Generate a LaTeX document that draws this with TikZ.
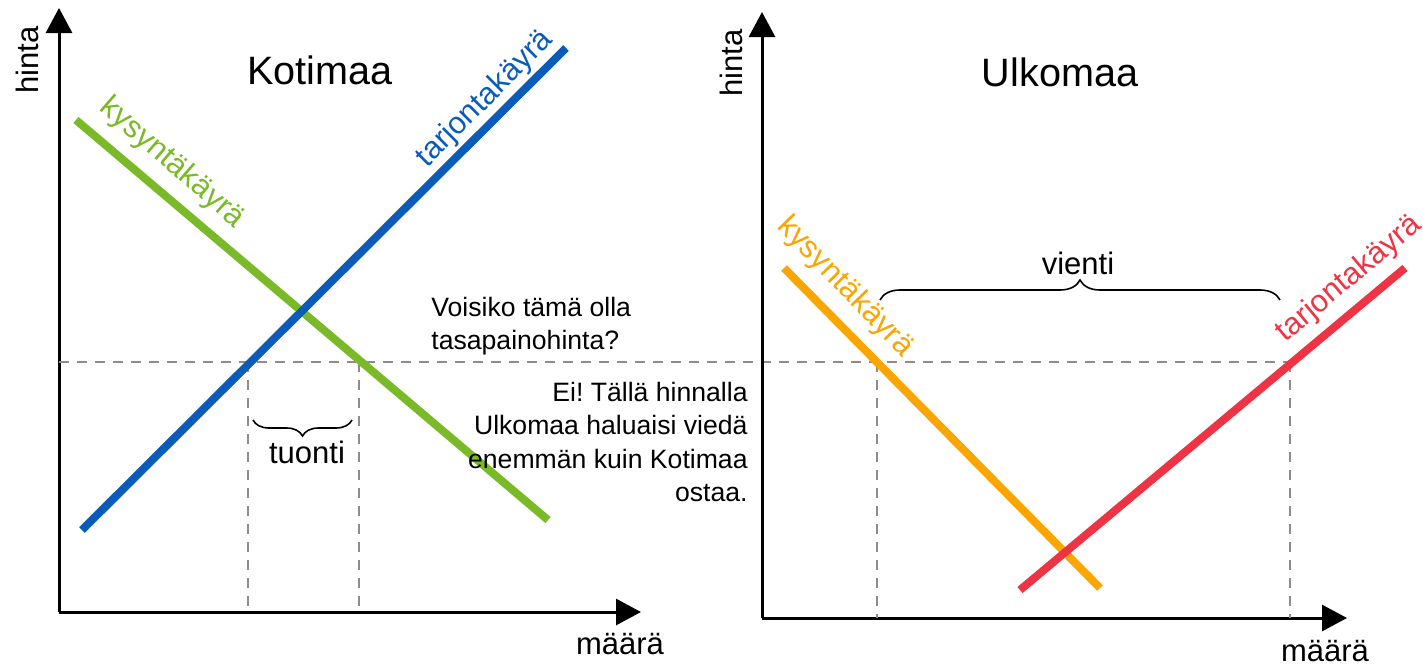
\documentclass[tikz,border=0pt]{standalone}
\usepackage{fontspec}
\setmainfont{Liberation Sans}
\usetikzlibrary{arrows.meta,decorations.pathreplacing}
\definecolor{cblue}{RGB}{10,92,184}
\definecolor{cgreen}{RGB}{122,186,40}
\definecolor{corange}{RGB}{250,165,0}
\definecolor{cred}{RGB}{238,52,68}
\definecolor{cdash}{RGB}{145,140,135}
\tikzset{
  axis/.style={line width=1.5pt,-{Triangle[length=12.5pt,width=13pt]}},
  curve/.style={line width=4pt},
  guide/.style={line width=1pt,cdash,dash pattern=on 5pt off 4pt},
  bracepath/.style={line width=0.8pt,decorate,decoration={brace,amplitude=#1}},
  lbl/.style={font=\fontsize{15.5}{18}\selectfont,inner sep=0pt},
  title/.style={font=\fontsize{19.8}{23}\selectfont,inner sep=0pt},
  note/.style={font=\fontsize{13.3}{16.8}\selectfont,inner sep=0pt}
}
\frenchspacing
\begin{document}
\begin{tikzpicture}[x=0.5pt,y=-0.5pt]
\useasboundingbox (0,0) rectangle (1423,665);
% ---------- left chart ----------
\coordinate (O1) at (59,612);
\coordinate (Y1) at (59,8);
\coordinate (X1) at (641,612);
\draw[axis] (O1) -- (Y1);
\draw[axis] (O1) -- (X1);
\node[lbl,rotate=90] (hinta1) at (27,60) {hinta};
\node[lbl] (maara1) at (620,644) {määrä};
\node[title] (kotimaa) at (320,70) {Kotimaa};
% guides
\coordinate (H0) at (59,362);
\coordinate (H1) at (1290,362);
\draw[guide] (H0) -- (H1);
\coordinate (ta) at (248,362);
\coordinate (tab) at (248,612);
\coordinate (tb) at (359,362);
\coordinate (tbb) at (359,612);
\draw[guide] (ta) -- (tab);
\draw[guide] (tb) -- (tbb);
% curves
\coordinate (s1a) at (82,530);
\coordinate (s1b) at (566,48);
\coordinate (d1a) at (76,120);
\coordinate (d1b) at (548,520);
\draw[curve,cgreen] (d1a) -- (d1b);
\draw[curve,cblue] (s1a) -- (s1b);
\node[lbl,cgreen,rotate=-41] (kys1) at (172,163) {kysyntäkäyrä};
\node[lbl,cblue,rotate=45] (tar1) at (485,99) {tarjontakäyrä};
% brace tuonti
\coordinate (bt1) at (352,420);
\coordinate (bt2) at (253,420);
\draw[bracepath=8pt] (bt1) -- (bt2);
\node[lbl] (tuonti) at (307,452) {tuonti};
% notes
\node[note,align=left,anchor=west] (voisiko) at (431,326) {Voisiko tämä olla\\tasapainohinta?};
\node[note,align=right,anchor=east] (ei) at (748,442) {Ei! Tällä hinnalla\\Ulkomaa haluaisi viedä\\enemmän kuin Kotimaa\\ostaa.};
% ---------- right chart ----------
\coordinate (O2) at (762,618);
\coordinate (Y2) at (762,12);
\coordinate (X2) at (1347,618);
\draw[axis] (O2) -- (Y2);
\draw[axis] (O2) -- (X2);
\node[lbl,rotate=90] (hinta2) at (731,63) {hinta};
\node[lbl] (maara2) at (1325,651) {määrä};
\node[title] (ulkomaa) at (1060,72) {Ulkomaa};
\coordinate (va) at (877,362);
\coordinate (vab) at (877,618);
\coordinate (vb) at (1290,362);
\coordinate (vbb) at (1290,618);
\draw[guide] (va) -- (vab);
\draw[guide] (vb) -- (vbb);
\coordinate (d2a) at (784,268);
\coordinate (d2b) at (1100,588);
\coordinate (s2a) at (1020,590);
\coordinate (s2b) at (1405,268);
\draw[curve,corange] (d2a) -- (d2b);
\draw[curve,cred] (s2a) -- (s2b);
\node[lbl,corange,rotate=-46] (kys2) at (845,287) {kysyntäkäyrä};
\node[lbl,cred,rotate=40] (tar2) at (1349,279) {tarjontakäyrä};
% brace vienti
\coordinate (bv1) at (880,300);
\coordinate (bv2) at (1280,300);
\draw[bracepath=10pt] (bv1) -- (bv2);
\node[lbl] (vienti) at (1078,263) {vienti};
\end{tikzpicture}
\end{document}
